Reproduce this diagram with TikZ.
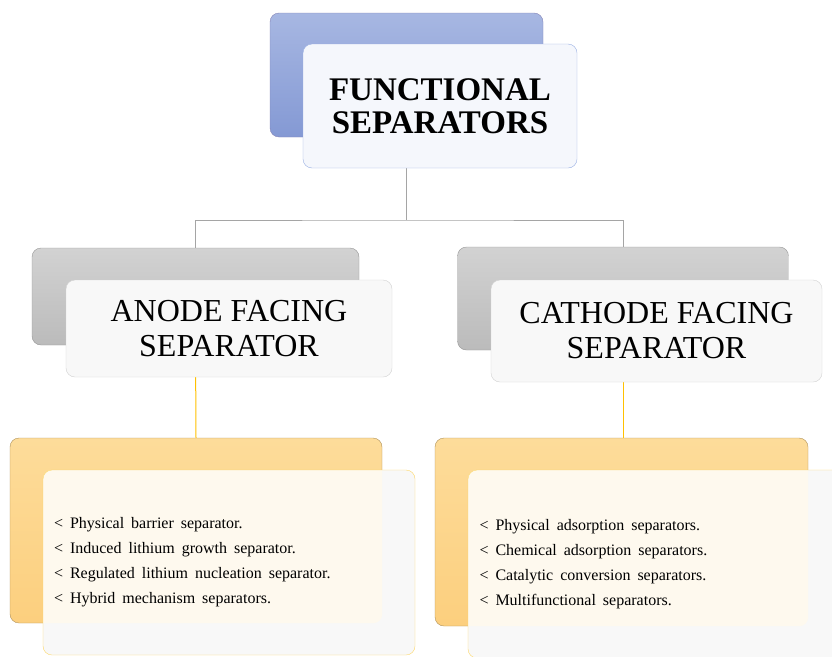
\documentclass[tikz,border=0pt]{standalone}
\usepackage{fontspec}
\setmainfont{Liberation Serif}
\definecolor{blueTop}{HTML}{A7B7E2}
\definecolor{blueBot}{HTML}{8499D4}
\definecolor{blueLine}{HTML}{99AFE3}
\definecolor{blueTint}{HTML}{F5F7FC}
\definecolor{greyTop}{HTML}{D2D2D2}
\definecolor{greyBot}{HTML}{BBBBBB}
\definecolor{greyTint}{HTML}{F8F8F8}
\definecolor{orangeTop}{HTML}{FDDC9A}
\definecolor{orangeBot}{HTML}{FCCF7E}
\definecolor{orangeLine}{HTML}{FCD768}
\definecolor{orangeTint}{HTML}{FEF9EE}
\definecolor{linkGrey}{HTML}{A5A5A5}
\definecolor{linkYellow}{HTML}{FFC000}
\newlength{\itemgap}
\setlength{\itemgap}{7pt}
\begin{document}
\begin{tikzpicture}[x=1pt,y=-1pt,
  backbox/.style={rounded corners=9pt,inner sep=0pt},
  frontbox/.style={rounded corners=9pt,inner sep=0pt,fill=#1},
  tintover/.style={path picture={\fill[orangeTint,rounded corners=9pt] (#1.north west) rectangle (#1.south east);}},
  titletext/.style={font=\fontsize{33}{33}\selectfont\bfseries,align=center},
  headtext/.style={font=\fontsize{32}{35}\selectfont,align=center},
  itemtext/.style={font=\fontsize{16}{25}\selectfont,align=left,text width=350pt,
    execute at begin node={\spaceskip=\itemgap\relax}}]
  \useasboundingbox (0,0) rectangle (832,656);
  % back boxes
  \node[backbox,draw=linkGrey!80!blue,top color=blueTop,bottom color=blueBot,minimum width=273pt,minimum height=124pt] (topback) at (406.5,75) {};
  \node[backbox,draw=greyBot!80!black,top color=greyTop,bottom color=greyBot,minimum width=327pt,minimum height=97pt] (anodeback) at (195.5,296.5) {};
  \node[backbox,draw=greyBot!80!black,top color=greyTop,bottom color=greyBot,minimum width=331pt,minimum height=103pt] (cathodeback) at (623,298.5) {};
  \node[backbox,draw=orangeBot!70!black,top color=orangeTop,bottom color=orangeBot,minimum width=372pt,minimum height=185pt] (anodelistback) at (196,530.5) {};
  \node[backbox,draw=orangeBot!70!black,top color=orangeTop,bottom color=orangeBot,minimum width=373pt,minimum height=188pt] (cathodelistback) at (621.5,532) {};
  % connectors
  \coordinate (split) at (406.5,220);
  \draw[linkGrey,line width=0.9pt] (topback.south) -- (split);
  \draw[linkGrey,line width=0.9pt] (anodeback.north) |- (split) -| (cathodeback.north);
  \draw[linkYellow,line width=1pt] (anodeback.south) -- (anodelistback.north);
  \draw[linkYellow,line width=1pt] (cathodeback.south) -- (cathodeback.south |- cathodelistback.north);
  % front boxes
  \node[frontbox=blueTint,draw=blueLine,minimum width=274pt,minimum height=124pt,titletext] (top) at (440,106) {FUNCTIONAL\\SEPARATORS};
  \node[frontbox=greyTint,draw=greyTop,minimum width=326pt,minimum height=97pt,headtext] (anode) at (229,328.5) {ANODE FACING\\SEPARATOR};
  \node[frontbox=greyTint,draw=greyTop,minimum width=331pt,minimum height=102pt,headtext] (cathode) at (656.5,331) {CATHODE FACING\\SEPARATOR};
  \node[frontbox=greyTint,tintover=anodelistback,draw=orangeLine,minimum width=372pt,minimum height=185pt,itemtext] (anodelist) at (229,562.5) {%
    < Physical barrier separator.\\
    < Induced lithium growth separator.\\
    < Regulated lithium nucleation separator.\\
    < Hybrid mechanism separators.};
  \node[frontbox=greyTint,tintover=cathodelistback,draw=orangeLine,minimum width=373pt,minimum height=188pt,itemtext] (cathodelist) at (654.5,564) {%
    < Physical adsorption separators.\\
    < Chemical adsorption separators.\\
    < Catalytic conversion separators.\\
    < Multifunctional separators.};
\end{tikzpicture}
\end{document}
